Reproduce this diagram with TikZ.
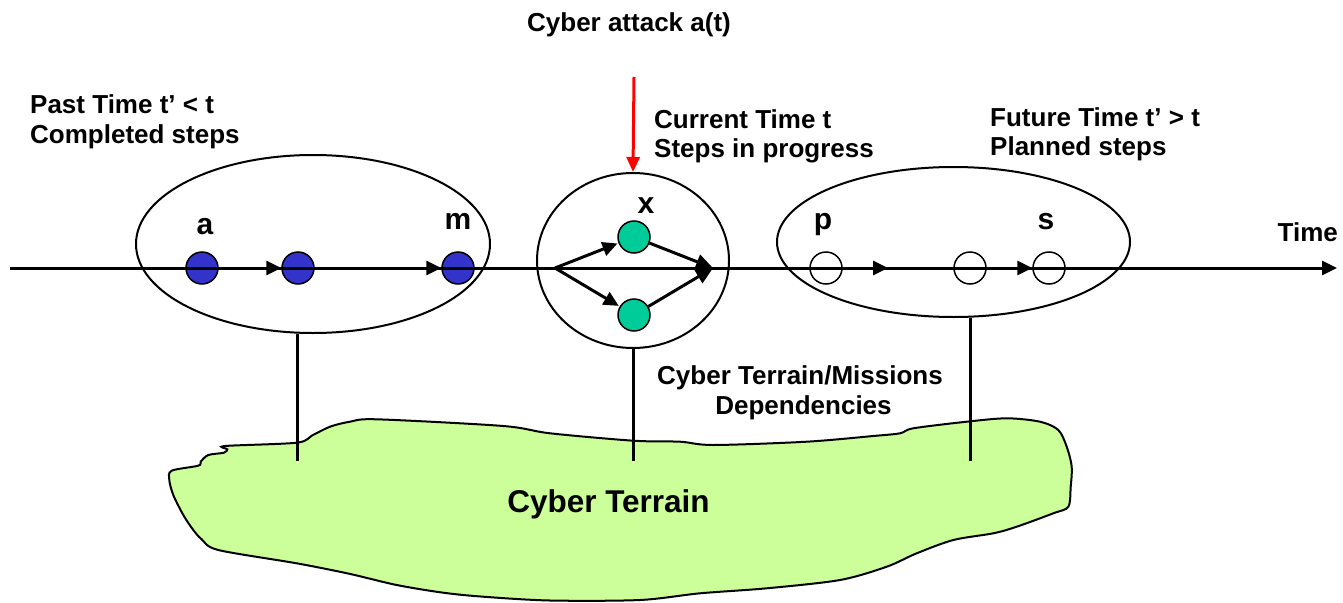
\documentclass[tikz,border=0pt]{standalone}
\usepackage{fontspec}
\setmainfont{Liberation Sans}
\usetikzlibrary{arrows.meta,shapes.geometric,calc}
\definecolor{dotblue}{RGB}{51,51,204}
\definecolor{dotgreen}{RGB}{0,204,153}
\definecolor{terrain}{RGB}{204,255,153}
\begin{document}
\begin{tikzpicture}[x=1pt,y=-1pt,
  lbl/.style={font=\bfseries\fontsize{26}{30}\selectfont, inner sep=0pt},
  letter/.style={font=\bfseries\fontsize{30}{34}\selectfont, inner sep=0pt, anchor=base},
  dot/.style={circle, draw, line width=1.5pt, minimum size=32pt, inner sep=0pt},
  group/.style={ellipse, draw, line width=2pt, inner sep=0pt},
  fwd/.style={line width=3pt, -{Triangle[length=15pt,width=14pt]}},
  mergearrow/.style={line width=3pt, -{Triangle[length=17pt,width=15pt]}},
  link/.style={line width=3pt}]
\useasboundingbox (0,0) rectangle (1343,602);

% the terrain blob
\draw[line width=2pt, fill=terrain] plot[smooth cycle, tension=0.5] coordinates {
  (225,446) (296.7,442.7) (312,435.5) (330,426.7) (350,421.7) (376.7,419.3)
  (503.3,426) (550,433.3) (633.3,440.7) (680,441.7) (713.3,445) (806.7,441.7)
  (873.3,436) (900,433.3) (913.3,428.3) (966.7,421.7) (1006.7,418.3) (1040,421.7)
  (1058.3,430) (1066.7,446.7) (1071.7,466.7) (1070.7,486.7) (1068.3,506.7)
  (1053.3,513.3) (1016.7,526.7) (993.3,533.3) (953.3,540) (916.7,553.3)
  (886.7,566.7) (840,580) (766.7,588.3) (700,593.3) (640,600) (550,600.5)
  (483.3,596.7) (443.3,592.7) (396.7,585) (349,573.7) (296.7,563.3) (218.3,550)
  (201.7,539.3) (193.3,530) (183.3,515) (173.3,495) (169.3,480) (171.7,470.7)
  (198.3,465.7) (200.7,461.7) (208.3,455) (224,452.7) (227.3,449.3)};
\node[font=\bfseries\fontsize{31.5}{36}\selectfont, inner sep=0pt, anchor=base] (terr) at (608.5,512) {Cyber Terrain};

% time groups
\node[group, minimum width=354pt, minimum height=178pt] (past) at (313,244) {};
\node[group, minimum width=192pt, minimum height=175pt] (cur) at (633,260.5) {};
\node[group, minimum width=353pt, minimum height=150pt] (fut) at (953.5,242) {};

% steps
\node[dot, fill=dotblue] (a) at (202,268) {};
\node[dot, fill=dotblue] (b) at (298,268) {};
\node[dot, fill=dotblue] (m) at (458,268) {};
\node[dot, fill=dotgreen] (x1) at (634,237) {};
\node[dot, fill=dotgreen] (x2) at (634,315) {};
\node[dot, fill=white] (p) at (826,268) {};
\node[dot, fill=white] (q) at (970,268) {};
\node[dot, fill=white] (s) at (1049,268) {};

% step labels
\node[letter] (la) at (205,234) {a};
\node[letter] (lm) at (458,229) {m};
\node[letter] (lx) at (646,213) {x};
\node[letter] (lp) at (823,229) {p};
\node[letter] (ls) at (1046,229) {s};

% time axis
\coordinate (t0) at (10,268);
\coordinate (tend) at (1337,268);
\coordinate (fork) at (555,268);
\coordinate (merge) at (713,268);
\coordinate (pmid) at (888,268);
\draw[fwd] (t0) -- (tend);
\draw[fwd] (a) -- (b);
\draw[fwd] (b) -- (m);
\draw[fwd] (p) -- (pmid);
\draw[fwd] (q) -- (s);

% parallel steps in progress
\draw[fwd, shorten >=1pt] (fork) -- (x1);
\draw[fwd, shorten >=1pt] (fork) -- (x2);
\draw[mergearrow] (x1) -- (merge);
\draw[mergearrow] (x2) -- (merge);

% attack
\coordinate (atk) at (634,77);
\draw[red, line width=3pt, -{Triangle[length=15pt,width=13pt]}] (atk) -- (cur.north);

% dependencies on the terrain
\coordinate (tpast) at (297,461);
\coordinate (tcur) at (633,461);
\coordinate (tfut) at (970,461);
\draw[link] (past.south -| tpast) -- (tpast);
\draw[link] (cur.south) -- (tcur);
\draw[link] (fut.south -| tfut) -- (tfut);

% captions
\node[lbl, anchor=base] (atktxt) at (629,32) {Cyber attack a(t)};
\node[lbl, anchor=base west] (past1) at (30,113) {Past Time t’ < t};
\node[lbl, anchor=base west] (past2) at (30,143) {Completed steps};
\node[lbl, anchor=base west] (cur1) at (654,128) {Current Time t};
\node[lbl, anchor=base west] (cur2) at (654,157) {Steps in progress};
\node[lbl, anchor=base west] (fut1) at (990,126) {Future Time t’ > t};
\node[lbl, anchor=base west] (fut2) at (990,155) {Planned steps};
\node[lbl, anchor=base east] (timetxt) at (1338,241) {Time};
\node[lbl, anchor=base] (dep1) at (800,384) {Cyber Terrain/Missions};
\node[lbl, anchor=base] (dep2) at (803.5,414) {Dependencies};
\end{tikzpicture}
\end{document}
